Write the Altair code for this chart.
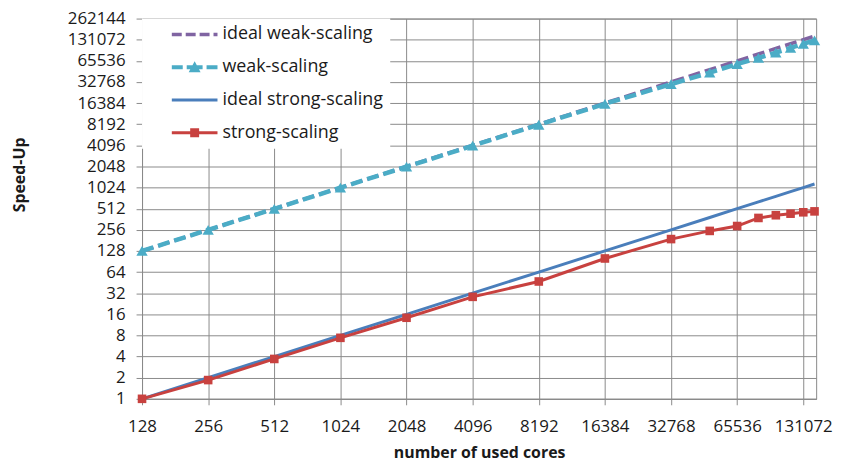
import altair as alt
import pandas as pd

# ---------------- data ----------------
cores = [128, 256, 512, 1024, 2048, 4096, 8192, 16384, 32768, 49152,
         65536, 81920, 98304, 114688, 131072, 147456]
ideal_weak = [128, 256, 512, 1024, 2048, 4096, 8192, 16384, 32768, 49152,
              65536, 81920, 98304, 114688, 131072, 147456]
weak = [128, 256, 510, 1020, 2030, 4050, 8050, 16000, 30500, 44500,
        59000, 72000, 86000, 100000, 114000, 128000]
ideal_strong = [1, 2, 4, 8, 16, 32, 64, 128, 256, 384,
                512, 640, 768, 896, 1024, 1152]
strong = [1, 1.85, 3.7, 7.4, 14.3, 28.4, 47, 100, 189, 247,
          290, 378, 413, 435, 455, 469]

series_names = ["ideal weak-scaling", "weak-scaling",
                "ideal strong-scaling", "strong-scaling"]
series_colors = ["#8064a2", "#4bacc6", "#4a7ebb", "#c8413f"]

x_ticks = [128, 256, 512, 1024, 2048, 4096, 8192, 16384, 32768, 65536, 131072]
y_ticks = [2 ** i for i in range(0, 19)]

rows = []
for name, vals in zip(series_names, [ideal_weak, weak, ideal_strong, strong]):
    for c, v in zip(cores, vals):
        rows.append({"cores": c, "speedup": v, "series": name})
df = pd.DataFrame(rows)

# ---------------- legend symbols (custom paths) ----------------
SYM = 16.0            # nominal symbol box (px); drawn symbol is 46 px wide
UNIT = SYM / 2.0      # px per path unit
SYM_W = 46.0


def u(px):
    return (px - SYM_W / 2) / UNIT


def rect(x0, x1, h):
    y = h / UNIT
    return "M{:.3f},{:.3f}L{:.3f},{:.3f}L{:.3f},{:.3f}L{:.3f},{:.3f}Z".format(
        u(x0), -y, u(x1), -y, u(x1), y, u(x0), y)


def tri(cx, w, h):
    return "M{:.3f},{:.3f}L{:.3f},{:.3f}L{:.3f},{:.3f}Z".format(
        u(cx), -h * 0.55 / UNIT, u(cx + w / 2), h * 0.45 / UNIT,
        u(cx - w / 2), h * 0.45 / UNIT)


def square(cx, s):
    return rect(cx - s / 2, cx + s / 2, s / 2)


p_ideal_weak = rect(0, 10, 1.75) + rect(14, 24, 1.75) + rect(28, 38, 1.75) + rect(42, 46, 1.75)
p_weak = rect(0, 11, 2) + rect(15, 31, 2) + tri(23, 12, 11) + rect(35, 46, 2)
p_ideal_strong = rect(0, 46, 1.5)
p_strong = rect(0, 46, 1.5) + square(23, 9)
legend_paths = [p_ideal_weak, p_weak, p_ideal_strong, p_strong]

FONT = "Open Sans"

color_scale = alt.Scale(domain=series_names, range=series_colors)

legend = alt.Legend(
    orient="none", legendX=0, legendY=0, title=None,
    fillColor="white", padding=7, symbolSize=SYM * SYM, symbolOffset=37,
    labelFont=FONT, labelFontSize=18, labelColor="#1a1a1a", labelOffset=19,
    labelLimit=400, rowPadding=15, symbolStrokeWidth=0, symbolOpacity=1,
)

x_enc = alt.X("cores:Q",
              scale=alt.Scale(type="log", base=2, domain=[128, 150000], nice=False),
              axis=alt.Axis(values=x_ticks, format="d", title="number of used cores",
                            labelFontSize=17, labelPadding=14, titlePadding=10,
                            titleFontSize=16, labelFlush=False))
y_enc = alt.Y("speedup:Q",
              scale=alt.Scale(type="log", base=2, domain=[1, 262144], nice=False),
              axis=alt.Axis(values=y_ticks, format="d", title="Speed-Up",
                            labelFontSize=17, labelPadding=11, titleFontSize=16,
                            titleX=-115, titleY=157, labelFlush=False))

base = alt.Chart(df).encode(x=x_enc, y=y_enc)


def color(show_legend=False):
    return alt.Color("series:N", scale=color_scale,
                     legend=legend if show_legend else None)


l_ideal_weak = base.transform_filter(alt.datum.series == "ideal weak-scaling").mark_line(
    strokeDash=[12, 5], strokeWidth=3.5).encode(color=color())
l_weak = base.transform_filter(alt.datum.series == "weak-scaling").mark_line(
    strokeDash=[12, 5], strokeWidth=4.5).encode(color=color())
p_weak_pts = base.transform_filter(alt.datum.series == "weak-scaling").mark_point(
    shape="triangle-up", filled=True, size=130, opacity=1).encode(color=color())
l_ideal_strong = base.transform_filter(alt.datum.series == "ideal strong-scaling").mark_line(
    strokeWidth=3).encode(color=color())
l_strong = base.transform_filter(alt.datum.series == "strong-scaling").mark_line(
    strokeWidth=3).encode(color=color())
p_strong_pts = base.transform_filter(alt.datum.series == "strong-scaling").mark_point(
    shape="square", filled=True, size=75, opacity=1).encode(color=color())

# invisible layer that only drives the legend (line + marker symbols)
legend_layer = base.mark_point(filled=True, opacity=0, strokeWidth=0).encode(
    color=color(True),
    shape=alt.Shape("series:N", scale=alt.Scale(domain=series_names, range=legend_paths),
                    legend=legend),
)

chart = alt.layer(
    l_ideal_weak, l_weak, p_weak_pts, l_ideal_strong, l_strong, p_strong_pts, legend_layer
).resolve_legend(
    color="independent", shape="independent"
).properties(
    width=679, height=383,
    autosize=alt.AutoSizeParams(type="none"),
    padding={"left": 135, "top": 9, "right": 22, "bottom": 65},
    background="white",
).configure_view(
    stroke="#8a8a8a", strokeWidth=1
).configure_axis(
    grid=True, gridColor="#8a8a8a", gridWidth=1, gridOpacity=1,
    domainColor="#8a8a8a", tickColor="#8a8a8a", tickSize=6,
    labelFont=FONT, titleFont=FONT, labelColor="#1a1a1a", titleColor="#1a1a1a",
    titleFontWeight="bold",
)

chart.save("out.html", embed_options={"renderer": "svg", "actions": False})
